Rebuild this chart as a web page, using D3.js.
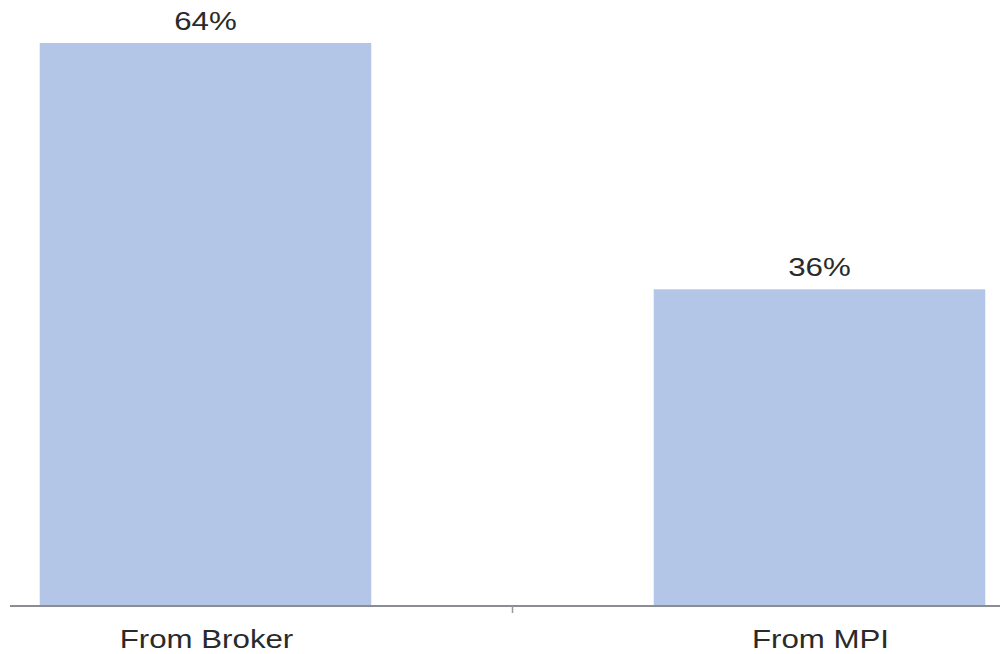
<!DOCTYPE html>
<html>
<head>
<meta charset="utf-8">
<script src="https://cdn.jsdelivr.net/npm/d3@7"></script>
<style>
  html, body { margin: 0; padding: 0; background: #fff; }
  svg { display: block; }
</style>
</head>
<body>
<svg id="chart" width="1000" height="654"></svg>
<script>
const categories = ["From Broker", "From MPI"];
const values = [64, 36];
const valueLabels = ["64%", "36%"];

const svg = d3.select("#chart");
const baseY = 606;

const x = d3.scaleBand()
  .domain(categories)
  .range([-101.5, 1126.5])
  .paddingInner(0.46)
  .paddingOuter(0.23);

const y = d3.scaleLinear()
  .domain([0, 64])
  .range([baseY, 43]);

// bars
svg.selectAll("rect.bar")
  .data(categories)
  .join("rect")
  .attr("class", "bar")
  .attr("x", d => x(d))
  .attr("width", x.bandwidth())
  .attr("y", (d, i) => y(values[i]))
  .attr("height", (d, i) => baseY - y(values[i]))
  .attr("fill", "#b3c6e7");

// axis line
svg.append("line")
  .attr("x1", 10).attr("x2", 1000)
  .attr("y1", baseY).attr("y2", baseY)
  .attr("stroke", "#8a8e94").attr("stroke-width", 2);

// tick between categories
const tickX = x(categories[1]) - x.step() * x.paddingInner() / 2;
svg.append("line")
  .attr("x1", tickX).attr("x2", tickX)
  .attr("y1", baseY).attr("y2", baseY + 7)
  .attr("stroke", "#999").attr("stroke-width", 1.5);

const fontFam = "'Liberation Sans', Arial, Helvetica, sans-serif";

// value labels
svg.selectAll("text.val")
  .data(categories)
  .join("text")
  .attr("class", "val")
  .attr("transform", (d, i) => `translate(${x(d) + x.bandwidth() / 2},${y(values[i]) - 13}) scale(1.25,1)`)
  .attr("text-anchor", "middle")
  .attr("font-family", fontFam)
  .attr("font-size", 25)
  .attr("fill", "#2a2a2a")
  .text((d, i) => valueLabels[i]);

// category labels
svg.selectAll("text.cat")
  .data(categories)
  .join("text")
  .attr("class", "cat")
  .attr("transform", d => `translate(${x(d) + x.bandwidth() / 2 + 1},648) scale(1.25,1)`)
  .attr("text-anchor", "middle")
  .attr("font-family", fontFam)
  .attr("font-size", 25)
  .attr("fill", "#2a2a2a")
  .text(d => d);
</script>
</body>
</html>
